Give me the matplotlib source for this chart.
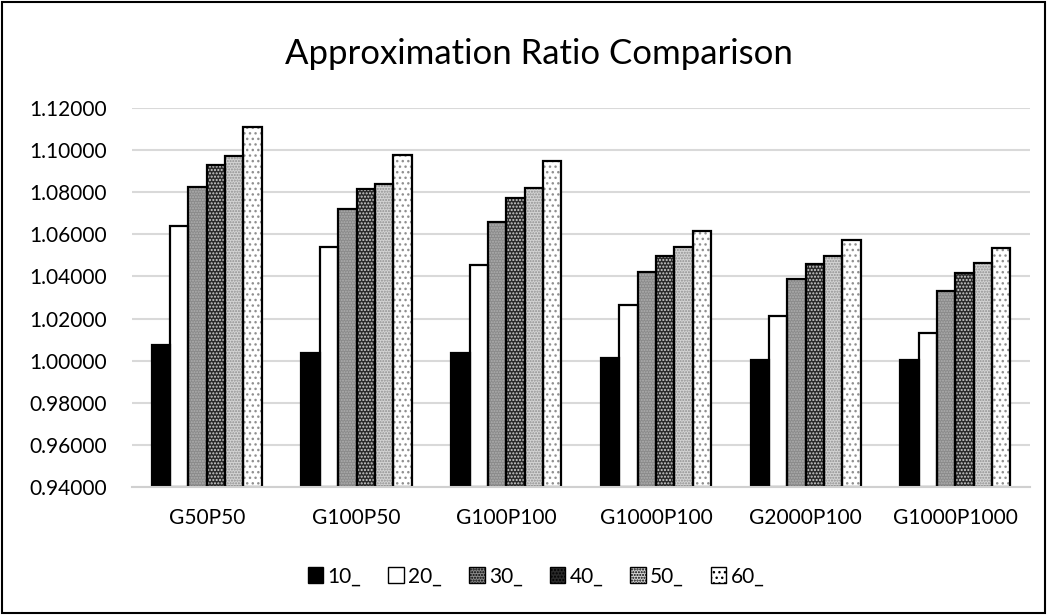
import matplotlib
matplotlib.use("Agg")
import matplotlib.pyplot as plt
from matplotlib.patches import Rectangle, Patch
import numpy as np

plt.rcParams['font.family'] = ['Lato', 'DejaVu Sans']

categories = ["G50P50", "G100P50", "G100P100", "G1000P100", "G2000P100", "G1000P1000"]
series_names = ["10_", "20_", "30_", "40_", "50_", "60_"]
s10 = [1.0076, 1.0039, 1.0038, 1.0011, 1.0005, 1.0003]
s20 = [1.0639, 1.0539, 1.0453, 1.0266, 1.0214, 1.0131]
s30 = [1.0824, 1.0720, 1.0658, 1.0419, 1.0386, 1.0333]
s40 = [1.0927, 1.0814, 1.0773, 1.0497, 1.0460, 1.0418]
s50 = [1.0971, 1.0837, 1.0819, 1.0538, 1.0496, 1.0465]
s60 = [1.1108, 1.0976, 1.0948, 1.0616, 1.0575, 1.0533]
yticks = [0.94, 0.96, 0.98, 1.00, 1.02, 1.04, 1.06, 1.08, 1.10, 1.12]

series = [s10, s20, s30, s40, s50, s60]
# (face color, hatch, hatch color)
styles = [
    ("#000000", None, "#000000"),
    ("#ffffff", None, "#ffffff"),
    ("#8a8a8a", "......", "#b0b0b0"),
    ("#2a2a2a", ".....", "#d0d0d0"),
    ("#d4d4d4", "......", "#8f8f8f"),
    ("#ffffff", "...", "#909090"),
]

fig = plt.figure(figsize=(10.47, 6.15), dpi=100)
ax = fig.add_axes([0.126, 0.208, 0.858, 0.6164])

x = np.arange(len(categories))
bw = 0.1225
for i, (vals, (fc, hatch, hc)) in enumerate(zip(series, styles)):
    pos = x + (i - 2.5) * bw
    heights = [v - 0.94 for v in vals]
    ax.bar(pos, heights, bw, bottom=0.94, color=fc, hatch=hatch,
           edgecolor=hc, linewidth=0, zorder=3)
    ax.bar(pos, heights, bw, bottom=0.94, facecolor="none",
           edgecolor="black", linewidth=1.6, zorder=4)

ax.set_xlim(-0.5, len(categories) - 0.5)
ax.set_ylim(0.94, 1.12)
ax.set_yticks(yticks)
ax.set_yticklabels([f"{t:.5f}" for t in yticks], fontsize=15)
ax.set_xticks(x)
ax.set_xticklabels(categories, fontsize=15)
ax.tick_params(axis='both', length=0)
ax.tick_params(axis='x', pad=15)
ax.tick_params(axis='y', pad=18)
ax.grid(axis='y', color="#d9d9d9", linewidth=1.5, zorder=0)
ax.set_axisbelow(True)
for s in ["top", "right", "left"]:
    ax.spines[s].set_visible(False)
ax.spines["bottom"].set_color("#d0d0d0")
ax.spines["bottom"].set_linewidth(1.5)
ax.spines["bottom"].set_zorder(5)

fig.text(0.515, 0.913, "Approximation Ratio Comparison", ha="center", va="center",
         fontsize=25)

handles = [Patch(facecolor=fc, hatch=hatch, edgecolor="black", linewidth=1.0)
           for (fc, hatch, hc) in styles]
leg = fig.legend(handles, series_names, loc="center", bbox_to_anchor=(0.512, 0.063),
                 ncol=6, frameon=False, fontsize=15, handlelength=0.75,
                 handleheight=0.75, handletextpad=0.2, columnspacing=1.3)

fig.patches.append(Rectangle((0.002, 0.003), 0.996, 0.994, transform=fig.transFigure,
                             fill=False, edgecolor="black", linewidth=1.5))

fig.savefig("out.png", dpi=100)
